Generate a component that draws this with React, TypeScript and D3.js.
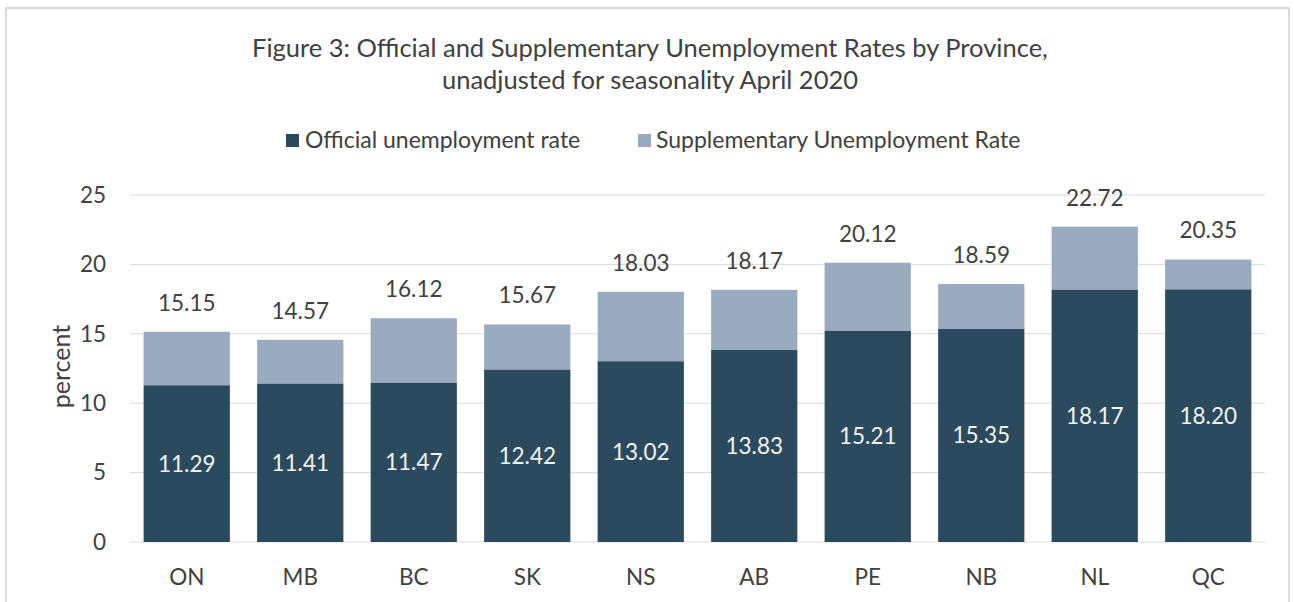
import React from "react";
import * as d3 from "d3";

const provinces = ["ON", "MB", "BC", "SK", "NS", "AB", "PE", "NB", "NL", "QC"];
const officialRate = [11.29, 11.41, 11.47, 12.42, 13.02, 13.83, 15.21, 15.35, 18.17, 18.2];
const supplementaryRate = [15.15, 14.57, 16.12, 15.67, 18.03, 18.17, 20.12, 18.59, 22.72, 20.35];
const yTicks = [0, 5, 10, 15, 20, 25];
const seriesNames = ["Official unemployment rate", "Supplementary Unemployment Rate"];

const W = 1294;
const H = 602;
const DARK = "#2c4a5d";
const LIGHT = "#9aabbf";
const TEXT = "#404040";
const FONT = "Lato, 'Open Sans', sans-serif";

export default function App() {
  const x = d3.scaleBand<string>().domain(provinces).range([130, 1265]).paddingInner(0.24).paddingOuter(0.12);
  const y = d3.scaleLinear().domain([0, 25]).range([542, 195]);
  const bw = x.bandwidth();

  return (
    <svg width={W} height={H} style={{ position: "absolute", left: 0, top: 0, background: "#fff" }} fontFamily={FONT}>
      <rect x={6} y={8} width={1283} height={600} fill="#fff" stroke="#d0d0d0" strokeWidth={1.5} />
      <text x={650} y={57} textAnchor="middle" fontSize={25.5} fill={TEXT}>
        Figure 3: Official and Supplementary Unemployment Rates by Province,
      </text>
      <text x={650} y={89} textAnchor="middle" fontSize={25.5} fill={TEXT}>
        unadjusted for seasonality April 2020
      </text>

      {/* legend */}
      <rect x={286} y={134} width={13} height={13} fill={DARK} />
      <text x={305} y={148} fontSize={23} fill={TEXT}>{seriesNames[0]}</text>
      <rect x={638} y={134} width={13} height={13} fill={LIGHT} />
      <text x={656} y={148} fontSize={23} fill={TEXT}>{seriesNames[1]}</text>

      {/* gridlines */}
      {yTicks.map((t) => (
        <g key={t}>
          <line x1={130} x2={1265} y1={y(t)} y2={y(t)} stroke="#d9d9d9" strokeWidth={1} />
          <text x={106} y={y(t)} dy="0.35em" textAnchor="end" fontSize={22.5} fill={TEXT}>{t}</text>
        </g>
      ))}
      <text transform={`translate(70,${y(12.5) - 2}) rotate(-90)`} textAnchor="middle" fontSize={25} fill={TEXT}>percent</text>

      {provinces.map((p, i) => {
        const x0 = x(p) as number;
        const cx = x0 + bw / 2;
        return (
          <g key={p}>
            <rect x={x0} y={y(supplementaryRate[i])} width={bw} height={y(officialRate[i]) - y(supplementaryRate[i])} fill={LIGHT} />
            <rect x={x0} y={y(officialRate[i])} width={bw} height={y(0) - y(officialRate[i])} fill={DARK} />
            <text x={cx} y={(y(officialRate[i]) + y(0)) / 2} dy="0.35em" textAnchor="middle" fontSize={22.5} fill="#f2f2f2">
              {officialRate[i].toFixed(2)}
            </text>
            <text x={cx} y={y(supplementaryRate[i]) - 29} dy="0.35em" textAnchor="middle" fontSize={22.5} fill={TEXT}>
              {supplementaryRate[i].toFixed(2)}
            </text>
            <text x={cx} y={577} dy="0.35em" textAnchor="middle" fontSize={22.5} fill={TEXT}>{p}</text>
          </g>
        );
      })}
    </svg>
  );
}
